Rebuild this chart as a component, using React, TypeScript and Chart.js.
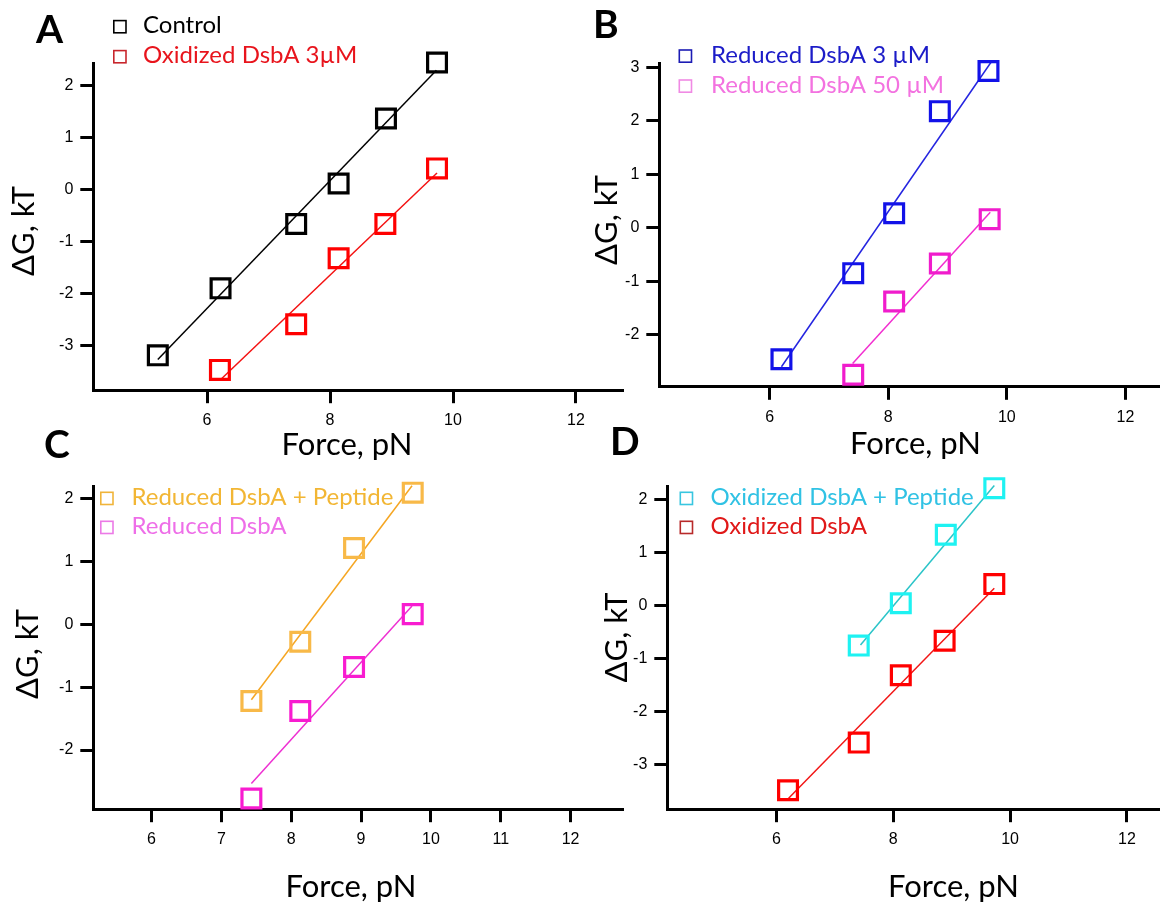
import { useEffect, useRef } from "react";
import { Chart, registerables } from "chart.js";

Chart.register(...registerables);

const PAGE_W = 1175;
const PAGE_H = 902;

// ---- Panel A: control vs. oxidized DsbA 3 µM ----
const forceControl = [5.2, 6.22, 7.45, 8.14, 8.91, 9.74];
const dGControl = [-3.19, -1.9, -0.66, 0.12, 1.37, 2.45];
const fitForceControl = [5.2, 9.73];
const fitDGControl = [-3.27, 2.3];

const forceOxidized3 = [6.21, 7.45, 8.14, 8.9, 9.74];
const dGOxidized3 = [-3.47, -2.59, -1.32, -0.66, 0.41];
const fitForceOxidized3 = [6.21, 9.74];
const fitDGOxidized3 = [-3.67, 0.32];

// ---- Panel B: reduced DsbA 3 µM vs. 50 µM ----
const forceReduced3 = [6.2, 7.41, 8.1, 8.87, 9.69];
const dGReduced3 = [-2.46, -0.85, 0.27, 2.18, 2.93];
const fitForceReduced3 = [6.2, 9.73];
const fitDGReduced3 = [-2.6, 3.09];

const forceReduced50 = [7.41, 8.1, 8.87, 9.71];
const dGReduced50 = [-2.75, -1.38, -0.67, 0.16];
const fitForceReduced50 = [7.4, 9.72];
const fitDGReduced50 = [-2.54, 0.29];

// ---- Panel C: reduced DsbA with / without peptide ----
const forceReducedPep = [7.43, 8.13, 8.9, 9.74];
const dGReducedPep = [-1.22, -0.28, 1.21, 2.09];
const fitForceReducedPep = [7.43, 9.73];
const fitDGReducedPep = [-1.2, 2.2];

const forceReducedC = [7.43, 8.13, 8.9, 9.74];
const dGReducedC = [-2.77, -1.38, -0.68, 0.16];
const fitForceReducedC = [7.43, 9.73];
const fitDGReducedC = [-2.53, 0.29];

// ---- Panel D: oxidized DsbA with / without peptide ----
const forceOxidizedPep = [7.41, 8.13, 8.9, 9.73];
const dGOxidizedPep = [-0.76, 0.04, 1.33, 2.21];
const fitForceOxidizedPep = [7.44, 9.73];
const fitDGOxidizedPep = [-0.75, 2.26];

const forceOxidizedD = [6.2, 7.41, 8.13, 8.88, 9.73];
const dGOxidizedD = [-3.49, -2.59, -1.32, -0.67, 0.4];
const fitForceOxidizedD = [6.21, 9.73];
const fitDGOxidizedD = [-3.64, 0.32];

// ---- Tick values ----
const xTicksEven = [6, 8, 10, 12];
const xTicksAll = [6, 7, 8, 9, 10, 11, 12];
const yTicksA = [-3, -2, -1, 0, 1, 2];
const yTicksB = [-2, -1, 0, 1, 2, 3];
const yTicksC = [-2, -1, 0, 1, 2];
const yTicksD = [-3, -2, -1, 0, 1, 2];

const X_TITLE = "Force, pN";
const Y_TITLE = "\u0394G, kT";

type Series = {
  label: string;
  x: number[];
  y: number[];
  fitX: number[];
  fitY: number[];
  marker: string;
  line: string;
  text: string;
  box: string;
};

type Panel = {
  letter: string;
  letterX: number;
  letterY: number;
  area: { l: number; r: number; t: number; b: number };
  xMin: number;
  xMax: number;
  yMin: number;
  yMax: number;
  xTicks: number[];
  yTicks: number[];
  series: Series[];
  legendBoxX: number;
  legendTextX: number;
  legendBaselines: number[];
  xTitleX: number;
  xTitleY: number;
  yTitleX: number;
  yTitleY: number;
};

const panels: Panel[] = [
  {
    letter: "A",
    letterX: 36,
    letterY: 42.7,
    area: { l: 93.3, r: 622, t: 63.3, b: 390.2 },
    xMin: 4.151,
    xMax: 12.748,
    yMin: -3.861,
    yMax: 2.434,
    xTicks: xTicksEven,
    yTicks: yTicksA,
    series: [
      { label: "Control", x: forceControl, y: dGControl, fitX: fitForceControl, fitY: fitDGControl, marker: "#000000", line: "#000000", text: "#000000", box: "#000000" },
      { label: "Oxidized DsbA 3\u00b5M", x: forceOxidized3, y: dGOxidized3, fitX: fitForceOxidized3, fitY: fitDGOxidized3, marker: "#ff0000", line: "#f41212", text: "#e8141c", box: "#c8262c" },
    ],
    legendBoxX: 113,
    legendTextX: 143,
    legendBaselines: [33.3, 63.3],
    xTitleX: 347,
    xTitleY: 455,
    yTitleX: 33.5,
    yTitleY: 231,
  },
  {
    letter: "B",
    letterX: 593,
    letterY: 38.3,
    area: { l: 659.3, r: 1175, t: 63.3, b: 386.8 },
    xMin: 4.141,
    xMax: 12.556,
    yMin: -2.975,
    yMax: 3.075,
    xTicks: xTicksEven,
    yTicks: yTicksB,
    series: [
      { label: "Reduced DsbA 3 \u00b5M", x: forceReduced3, y: dGReduced3, fitX: fitForceReduced3, fitY: fitDGReduced3, marker: "#1212e8", line: "#2424e0", text: "#1c1cc8", box: "#1c1cb4" },
      { label: "Reduced DsbA 50 \u00b5M", x: forceReduced50, y: dGReduced50, fitX: fitForceReduced50, fitY: fitDGReduced50, marker: "#f01ccc", line: "#f22ed0", text: "#f372e0", box: "#f08ae4" },
    ],
    legendBoxX: 678.5,
    legendTextX: 711,
    legendBaselines: [62.7, 92.7],
    xTitleX: 915.5,
    xTitleY: 454,
    yTitleX: 616.5,
    yTitleY: 220,
  },
  {
    letter: "C",
    letterX: 44,
    letterY: 458,
    area: { l: 93.3, r: 622, t: 486, b: 809.2 },
    xMin: 5.167,
    xMax: 12.736,
    yMin: -2.94,
    yMax: 2.196,
    xTicks: xTicksAll,
    yTicks: yTicksC,
    series: [
      { label: "Reduced DsbA + Peptide", x: forceReducedPep, y: dGReducedPep, fitX: fitForceReducedPep, fitY: fitDGReducedPep, marker: "#f8b948", line: "#f5a623", text: "#f2b634", box: "#f0b43a" },
      { label: "Reduced DsbA", x: forceReducedC, y: dGReducedC, fitX: fitForceReducedC, fitY: fitDGReducedC, marker: "#f81cd0", line: "#ee30d2", text: "#ee6ee8", box: "#ec7ae6" },
    ],
    legendBoxX: 100,
    legendTextX: 131.5,
    legendBaselines: [505, 534],
    xTitleX: 351,
    xTitleY: 896.7,
    yTitleX: 37.5,
    yTitleY: 654,
  },
  {
    letter: "D",
    letterX: 610,
    letterY: 455,
    area: { l: 667.3, r: 1175, t: 486, b: 809.2 },
    xMin: 4.134,
    xMax: 12.54,
    yMin: -3.847,
    yMax: 2.251,
    xTicks: xTicksEven,
    yTicks: yTicksD,
    series: [
      { label: "Oxidized DsbA + Peptide", x: forceOxidizedPep, y: dGOxidizedPep, fitX: fitForceOxidizedPep, fitY: fitDGOxidizedPep, marker: "#1ef2f2", line: "#2ac4c8", text: "#30c2e4", box: "#38c6e0" },
      { label: "Oxidized DsbA", x: forceOxidizedD, y: dGOxidizedD, fitX: fitForceOxidizedD, fitY: fitDGOxidizedD, marker: "#ff0000", line: "#f21616", text: "#e01818", box: "#b82a2a" },
    ],
    legendBoxX: 679.5,
    legendTextX: 710.5,
    legendBaselines: [505, 534],
    xTitleX: 953.5,
    xTitleY: 896.7,
    yTitleX: 627,
    yTitleY: 637.5,
  },
];

const Y_AXIS_W = 40;
const X_AXIS_H = 40;
const TEXT_FONT = "Lato, 'Open Sans', 'DejaVu Sans', sans-serif";
const TICK_FONT = "'Liberation Sans', Arial, sans-serif";

function buildConfig(panel: Panel): any {
  const datasets: any[] = [];
  panel.series.forEach((s) => {
    datasets.push({
      label: s.label + " fit",
      data: s.fitX.map((x, i) => ({ x, y: s.fitY[i] })),
      showLine: true,
      borderColor: s.line,
      borderWidth: 1.5,
      pointRadius: 0,
      fill: false,
      clip: false,
      order: 2,
    });
    datasets.push({
      label: s.label,
      data: s.x.map((x, i) => ({ x, y: s.y[i] })),
      showLine: false,
      pointStyle: "rect",
      pointRadius: 13.3,
      pointBorderWidth: 3.2,
      pointBorderColor: s.marker,
      pointBackgroundColor: "rgba(0,0,0,0)",
      borderColor: s.marker,
      clip: false,
      order: 1,
    });
  });

  const overlay = {
    id: "panelText",
    afterDraw(chart: any) {
      const ctx: CanvasRenderingContext2D = chart.ctx;
      ctx.save();
      // panel letter
      ctx.fillStyle = "#000";
      ctx.font = `bold 39px ${TEXT_FONT}`;
      ctx.textAlign = "left";
      ctx.textBaseline = "alphabetic";
      ctx.fillText(panel.letter, panel.letterX, panel.letterY);

      // legend
      ctx.font = `24px ${TEXT_FONT}`;
      panel.series.forEach((s, i) => {
        const base = panel.legendBaselines[i];
        ctx.strokeStyle = s.box;
        ctx.lineWidth = 1.6;
        ctx.strokeRect(panel.legendBoxX + 0.8, base - 13.5 + 0.8, 12.2, 12.2);
        ctx.fillStyle = s.text;
        ctx.fillText(s.label, panel.legendTextX, base);
      });

      // axis titles
      ctx.fillStyle = "#000";
      ctx.font = `31px ${TEXT_FONT}`;
      ctx.textAlign = "center";
      ctx.fillText(X_TITLE, panel.xTitleX, panel.xTitleY);
      ctx.translate(panel.yTitleX, panel.yTitleY);
      ctx.rotate(-Math.PI / 2);
      ctx.fillText(Y_TITLE, 0, 0);
      ctx.restore();
    },
  };

  const axisCommon = {
    type: "linear",
    grid: {
      drawOnChartArea: false,
      drawTicks: true,
      tickLength: 13,
      lineWidth: 3,
      color: "#000",
    },
    border: { display: true, width: 3, color: "#000" },
  };

  return {
    type: "scatter",
    data: { datasets },
    plugins: [overlay],
    options: {
      responsive: false,
      animation: false,
      devicePixelRatio: 1,
      events: [],
      layout: {
        padding: {
          left: panel.area.l - Y_AXIS_W,
          top: panel.area.t,
          right: PAGE_W - panel.area.r,
          bottom: PAGE_H - panel.area.b - X_AXIS_H,
        },
      },
      plugins: {
        legend: { display: false },
        tooltip: { enabled: false },
        title: { display: false },
      },
      scales: {
        x: {
          ...axisCommon,
          position: "bottom",
          min: panel.xMin,
          max: panel.xMax,
          afterBuildTicks: (scale: any) => {
            scale.ticks = panel.xTicks.map((v) => ({ value: v }));
          },
          afterFit: (scale: any) => {
            scale.height = X_AXIS_H;
          },
          ticks: {
            color: "#000",
            font: { family: TICK_FONT, size: 16 },
            padding: 8,
            maxRotation: 0,
            autoSkip: false,
            callback: (v: number) => String(v),
          },
        },
        y: {
          ...axisCommon,
          position: "left",
          min: panel.yMin,
          max: panel.yMax,
          afterBuildTicks: (scale: any) => {
            scale.ticks = panel.yTicks.map((v) => ({ value: v }));
          },
          afterFit: (scale: any) => {
            scale.width = Y_AXIS_W;
          },
          ticks: {
            color: "#000",
            font: { family: TICK_FONT, size: 16 },
            padding: 7,
            autoSkip: false,
            callback: (v: number) => String(v),
          },
        },
      },
    },
  };
}

function PanelChart({ panel }: { panel: Panel }) {
  const ref = useRef<HTMLCanvasElement>(null);
  useEffect(() => {
    if (!ref.current) return;
    const chart = new Chart(ref.current, buildConfig(panel));
    return () => chart.destroy();
  }, [panel]);
  return (
    <canvas
      ref={ref}
      width={PAGE_W}
      height={PAGE_H}
      style={{ position: "absolute", left: 0, top: 0, width: PAGE_W, height: PAGE_H }}
    />
  );
}

export default function App() {
  return (
    <div
      style={{
        position: "fixed",
        left: 0,
        top: 0,
        width: PAGE_W,
        height: PAGE_H,
        background: "#ffffff",
        overflow: "hidden",
      }}
    >
      {panels.map((p) => (
        <PanelChart key={p.letter} panel={p} />
      ))}
    </div>
  );
}
